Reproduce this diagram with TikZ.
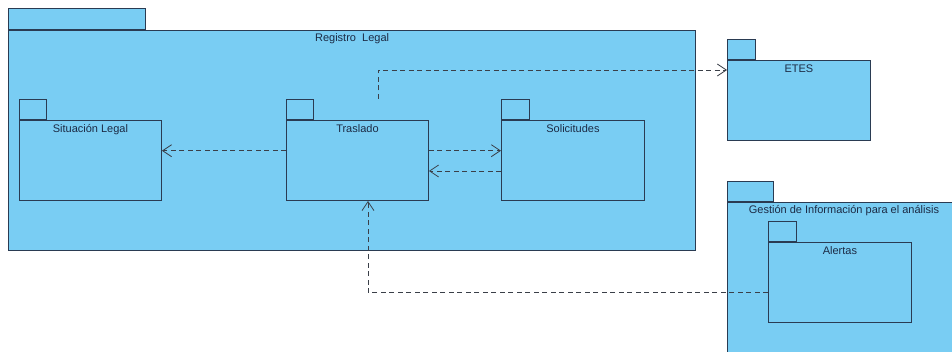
\documentclass[tikz,border=0pt]{standalone}
\usepackage{fontspec}
\setmainfont{Liberation Sans}
\usetikzlibrary{arrows.meta}
\definecolor{pkgfill}{HTML}{79CDF3}
\definecolor{pkgline}{HTML}{2A3B52}
\definecolor{txt}{HTML}{1C2B45}
\definecolor{depc}{HTML}{3A3F48}
\begin{document}
\begin{tikzpicture}[x=1pt,y=-1pt,
  pkgbody/.style={draw=pkgline, fill=pkgfill, line width=0.9pt, rectangle, inner sep=0pt, anchor=north west},
  pkgtab/.style={draw=pkgline, fill=pkgfill, line width=0.9pt, rectangle, inner sep=0pt, anchor=south west, minimum height=20.3pt},
  pkgtitle/.style={text=txt, font=\fontsize{11}{13}\selectfont, inner sep=0pt, anchor=base},
  dep/.style={draw=depc, line width=0.8pt, dash pattern=on 5pt off 3.5pt, -{Straight Barb[length=9pt,width=12pt,line width=0.8pt]}}]
\useasboundingbox (0,0) rectangle (952,351);
\clip (0,0) rectangle (952,351);
\fill[white] (0,0) rectangle (952,351);

% Registro Legal
\node[pkgbody, minimum width=686.7pt, minimum height=220.5pt] (reg) at (8.3,29.5) {};
\node[pkgtab, minimum width=136.7pt] (regtab) at (reg.north west) {};
\node[pkgtitle] (regtitle) at ([yshift=-12pt]reg.north) {Registro\ \ Legal};

% Situacion Legal
\node[pkgbody, minimum width=142pt, minimum height=80pt] (sit) at (19,120) {};
\node[pkgtab, minimum width=27pt] (sittab) at (sit.north west) {};
\node[pkgtitle] (sittitle) at ([yshift=-12.5pt]sit.north) {Situación Legal};

% Traslado
\node[pkgbody, minimum width=142pt, minimum height=80pt] (tras) at (286,120) {};
\node[pkgtab, minimum width=27pt] (trastab) at (tras.north west) {};
\node[pkgtitle] (trastitle) at ([yshift=-12.5pt]tras.north) {Traslado};

% Solicitudes
\node[pkgbody, minimum width=143pt, minimum height=80pt] (sol) at (501,120) {};
\node[pkgtab, minimum width=28pt] (soltab) at (sol.north west) {};
\node[pkgtitle] (soltitle) at ([yshift=-12.5pt]sol.north) {Solicitudes};

% ETES
\node[pkgbody, minimum width=143pt, minimum height=80pt] (etes) at (727,60) {};
\node[pkgtab, minimum width=28pt] (etestab) at (etes.north west) {};
\node[pkgtitle] (etestitle) at ([yshift=-12pt]etes.north) {ETES};

% Gestion de Informacion
\node[pkgbody, minimum width=233pt, minimum height=160pt] (gest) at (727,201.7) {};
\node[pkgtab, minimum width=46pt] (gesttab) at (gest.north west) {};
\node[pkgtitle] (gesttitle) at ([yshift=-11.5pt]gest.north) {Gestión de Información para el análisis};

% Alertas
\node[pkgbody, minimum width=143pt, minimum height=80pt] (ale) at (768,242) {};
\node[pkgtab, minimum width=28pt] (aletab) at (ale.north west) {};
\node[pkgtitle] (aletitle) at ([yshift=-12pt]ale.north) {Alertas};

% dependencies
\draw[dep] (tras.west |- 0,150.7) -- (sit.east |- 0,150.7);
\draw[dep] (tras.east |- 0,150.7) -- (sol.west |- 0,150.7);
\draw[dep] (sol.west |- 0,171) -- (tras.east |- 0,171);
\draw[dep] (378,0 |- trastab.north) |- (etes.west |- 0,70);
\draw[dep] (ale.west |- 0,292.7) -| (368,0 |- tras.south);
\end{tikzpicture}
\end{document}
